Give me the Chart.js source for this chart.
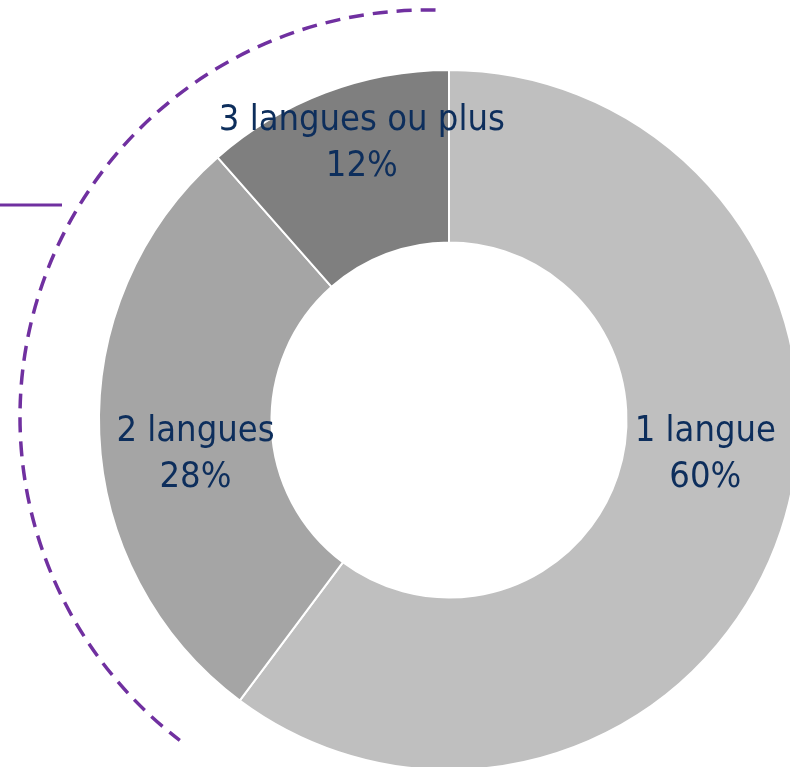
<!DOCTYPE html>
<html>
<head>
<meta charset="utf-8">
<script src="https://cdn.jsdelivr.net/npm/chart.js@4"></script>
<style>
  html, body { margin: 0; padding: 0; background: #fff; overflow: hidden; }
  #wrap { position: absolute; left: 0; top: 0; width: 900px; height: 840px; }
</style>
</head>
<body>
<div id="wrap"><canvas id="myChart" width="900" height="840"></canvas></div>
<script>
const categories = ['1 langue', '2 langues', '3 langues ou plus'];
const shares = [60.2, 28.3, 11.5];
const sliceColors = ['#BFBFBF', '#A5A5A5', '#7F7F7F'];
// nudges for label placement, like the reference
const labelNudge = [[6, -48], [10, 24], [6, -30]];

const labelsPlugin = {
    id: 'sliceLabels',
    afterDatasetsDraw(chart) {
        const ctx = chart.ctx;
        const meta = chart.getDatasetMeta(0);
        ctx.save();
        ctx.font = '36px "DejaVu Sans Condensed", "DejaVu Sans", sans-serif';
        ctx.fillStyle = '#0D2E5C';
        ctx.textAlign = 'center';
        ctx.textBaseline = 'middle';
        meta.data.forEach((arc, i) => {
            const p = arc.tooltipPosition();
            const x = p.x + labelNudge[i][0];
            const y = p.y + labelNudge[i][1];
            ctx.fillText(categories[i], x, y - 23);
            ctx.fillText(Math.round(shares[i]) + '%', x, y + 23);
        });
        ctx.restore();
    }
};

const decoPlugin = {
    id: 'deco',
    afterDraw(chart) {
        const ctx = chart.ctx;
        const arc = chart.getDatasetMeta(0).data[0];
        const cx = arc.x - 22, cy = arc.y - 3;
        const r = arc.outerRadius + 57;
        ctx.save();
        ctx.strokeStyle = '#7030A0';
        ctx.lineWidth = 3.5;
        ctx.setLineDash([15, 9]);
        ctx.beginPath();
        ctx.arc(cx, cy, r, -88.8 * Math.PI / 180, 127.4 * Math.PI / 180, true);
        ctx.stroke();
        ctx.setLineDash([]);
        ctx.lineWidth = 3;
        ctx.beginPath();
        ctx.moveTo(0, 205);
        ctx.lineTo(62, 205);
        ctx.stroke();
        ctx.restore();
    }
};

new Chart(document.getElementById('myChart'), {
    type: 'doughnut',
    data: {
        labels: categories,
        datasets: [{
            data: shares,
            backgroundColor: sliceColors,
            borderColor: '#FFFFFF',
            borderWidth: 2,
            radius: 350,
            cutout: 177
        }]
    },
    options: {
        responsive: false,
        animation: false,
        layout: { padding: { left: 99, right: 101, top: 70, bottom: 70 } },
        plugins: {
            legend: { display: false },
            tooltip: { enabled: false }
        }
    },
    plugins: [labelsPlugin, decoPlugin]
});
</script>
</body>
</html>
